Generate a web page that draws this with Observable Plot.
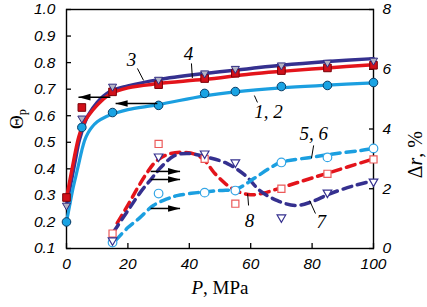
<!DOCTYPE html>
<html><head><meta charset="utf-8">
<script src="https://cdn.jsdelivr.net/npm/d3@7"></script>
<script src="https://cdn.jsdelivr.net/npm/@observablehq/plot@0.6"></script>
<style>body{margin:0;background:#fff}</style>
</head><body><div id="chart"></div>
<script>
// ---- data (P in MPa) ----
const P = [0, 5, 15, 30, 45, 55, 70, 85, 100];
const theta12 = [0.200, 0.556, 0.612, 0.639, 0.684, 0.691, 0.710, 0.714, 0.725]; // circles (1,2)
const theta4  = [0.292, 0.631, 0.690, 0.717, 0.740, 0.760, 0.770, 0.780, 0.790]; // squares
const theta3  = [0.262, 0.590, 0.710, 0.736, 0.760, 0.777, 0.790, 0.800, 0.808]; // triangles

const PR = [15, 30, 45, 55, 70, 85, 100];
const dr56 = [0.20, 1.84, 1.87, 1.94, 2.88, 3.05, 3.35]; // open circles
const dr8  = [0.50, 3.50, 3.00, 1.50, 2.00, 2.50, 2.98]; // open squares
const dr7  = [0.27, 3.08, 3.18, 2.88, 1.04, 1.87, 2.24]; // open triangles

// fitted curves [P, value]
const fit12 = [[0,0.20],[1,0.26],[2,0.32],[3,0.37],[4,0.42],[5,0.47],[6,0.51],[7,0.535],[8,0.553],[10,0.577],[13,0.597],[16,0.61],[20,0.623],[30,0.642],[45,0.675],[55,0.69],[70,0.705],[85,0.715],[100,0.724]];
const fit4  = [[0,0.29],[1,0.35],[2,0.41],[3,0.47],[4,0.52],[5,0.555],[6,0.58],[7,0.598],[10,0.64],[14,0.68],[20,0.705],[30,0.721],[45,0.737],[60,0.757],[70,0.767],[85,0.780],[100,0.792]];
const fit3  = [[0,0.26],[1,0.32],[2,0.38],[3,0.44],[4,0.50],[5,0.54],[6,0.575],[7,0.60],[10,0.65],[14,0.69],[20,0.712],[30,0.736],[45,0.759],[60,0.778],[70,0.790],[85,0.804],[100,0.815]];

const dash56 = [[16,0.27],[20,0.7],[24,1.04],[28.3,1.44],[33,1.67],[36,1.77],[42.6,1.87],[50,1.94],[55.6,2.0],[61,2.34],[66.4,2.7],[69.7,2.88],[79.5,3.05],[88,3.18],[95.8,3.28],[100,3.35]];
const dash8  = [[16.5,0.85],[20,1.45],[23,2.0],[26,2.5],[29,2.9],[33,3.15],[38,3.22],[42,3.15],[45,2.95],[48,2.55],[52,2.15],[56,1.9],[60,1.8],[64,1.85],[68,1.97],[75,2.2],[85,2.52],[100,3.0]];
const dash7  = [[15.3,0.55],[20,1.27],[24,1.87],[27.4,2.3],[30.6,2.7],[35,3.1],[39.4,3.18],[46,3.05],[52.4,2.84],[58.3,2.44],[63,1.94],[68.7,1.6],[74.6,1.44],[79.5,1.55],[86,1.84],[93.5,2.1],[100,2.27]];

const xTicks = [0, 20, 40, 60, 80, 100];
const leftTicks = [0.1, 0.2, 0.3, 0.4, 0.5, 0.6, 0.7, 0.8, 0.9, 1.0];
const rightTicks = [0, 2, 4, 6, 8];

// annotations
const arrowsLeft = [ {x1: 14.3, x2: 3.9, y: 0.670}, {x1: 29.6, x2: 16.0, y: 0.646} ];   // Θ units
const arrowsRight = [ {x1: 27.4, x2: 37.0, y: 2.58}, {x1: 27.4, x2: 37.0, y: 2.31}, {x1: 27.4, x2: 37.0, y: 1.34} ]; // Δr units
const labelsLeft = [ {x: 21.2, y: 0.812, t: "3"}, {x: 39.7, y: 0.831, t: "4"}, {x: 65.8, y: 0.616, t: "1, 2"} ];
const labelsRight = [ {x: 80.5, y: 3.85, t: "5, 6"}, {x: 83, y: 0.9, t: "7"}, {x: 59.6, y: 0.94, t: "8"} ];
const leadersLeft = [ {x1: 23.1, y1: 0.778, x2: 25.1, y2: 0.733}, {x1: 40.7, y1: 0.797, x2: 41, y2: 0.742}, {x1: 61.2, y1: 0.676, x2: 62.2, y2: 0.65} ];
const leadersRight = [ {x1: 80.5, y1: 3.45, x2: 79.8, y2: 3.02}, {x1: 81.1, y1: 1.17, x2: 79.2, y2: 1.6}, {x1: 59, y1: 1.84, x2: 59.3, y2: 1.44} ];

// ---- helpers ----
const toL = d => 0.1 + d * 0.9 / 8;           // right-axis value -> left-axis units
const fromL = v => Math.round((v - 0.1) * 8 / 0.9);
const pts = (xs, ys) => xs.map((x, i) => ({x, y: ys[i]}));
const crv = a => a.map(([x, y]) => ({x, y}));
const crvR = a => a.map(([x, y]) => ({x, y: toL(y)}));

const red = "#e3141b", navy = "#35308f", lblue = "#1b9fe0";
const headLeft = { draw(ctx, size) { ctx.moveTo(0, 0); ctx.lineTo(12, -3.3); ctx.lineTo(12, 3.3); ctx.closePath(); } };
const headRight = { draw(ctx, size) { ctx.moveTo(0, 0); ctx.lineTo(-12, -3.3); ctx.lineTo(-12, 3.3); ctx.closePath(); } };
const SERIF = "Liberation Serif";
const SANS = "Liberation Sans";

const svg = Plot.plot({
  width: 427, height: 307,
  marginLeft: 66, marginRight: 54, marginTop: 9, marginBottom: 59,
  style: {fontFamily: SANS, fontSize: "15px", background: "#fff", color: "#000"},
  x: {domain: [0, 100]},
  y: {domain: [0.1, 1.0]},
  marks: [
    Plot.axisX({ticks: xTicks, tickSize: -5, tickPadding: 14, strokeWidth: 1.3, label: null, fontSize: 15.5, fontStyle: "italic", fontFamily: SANS}),
    Plot.axisY({anchor: "left", ticks: leftTicks, tickFormat: d => d.toFixed(1), tickSize: -5, tickPadding: 16, strokeWidth: 1.3, label: null, fontSize: 15.5, fontStyle: "italic", fontFamily: SANS}),
    Plot.axisY({anchor: "right", ticks: rightTicks.map(toL), tickFormat: fromL, tickSize: -5, tickPadding: 14, strokeWidth: 1.3, label: null, fontSize: 15.5, fontStyle: "italic", fontFamily: SANS}),
    Plot.frame({stroke: "#000", strokeWidth: 1.4}),

    // dashed curves (right axis)
    Plot.line(crvR(dash8), {x: "x", y: "y", stroke: red, strokeWidth: 3.5, strokeDasharray: "9,6", curve: "catmull-rom"}),
    Plot.line(crvR(dash7), {x: "x", y: "y", stroke: navy, strokeWidth: 3.5, strokeDasharray: "9,6", curve: "catmull-rom"}),
    Plot.line(crvR(dash56), {x: "x", y: "y", stroke: lblue, strokeWidth: 3.5, strokeDasharray: "9,6", curve: "catmull-rom"}),

    // solid fits (left axis)
    Plot.line(crv(fit3), {x: "x", y: "y", stroke: navy, strokeWidth: 3.5, curve: "catmull-rom"}),
    Plot.line(crv(fit4), {x: "x", y: "y", stroke: red, strokeWidth: 3.5, curve: "catmull-rom"}),
    Plot.line(crv(fit12), {x: "x", y: "y", stroke: lblue, strokeWidth: 3.2, curve: "catmull-rom"}),

    // open markers (right axis)
    Plot.dot(pts(PR, dr56.map(toL)), {x: "x", y: "y", symbol: "circle", r: 4.3, fill: "#fff", stroke: "#35a6e6", strokeWidth: 1.2}),
    Plot.dot(pts(PR, dr8.map(toL)), {x: "x", y: "y", symbol: "square", r: 4.0, fill: "#fff", stroke: "#ec5a5a", strokeWidth: 1.2}),
    Plot.dot(pts(PR, dr7.map(toL)), {x: "x", y: "y", symbol: "triangle", rotate: 180, r: 3.2, fill: "#fff", stroke: navy, strokeWidth: 1.2}),

    // filled markers (left axis)
    Plot.dot(pts(P, theta12), {x: "x", y: "y", symbol: "circle", r: 4.3, fill: "#1aa3e3", stroke: "#0a3d66", strokeWidth: 1}),
    Plot.dot(pts(P, theta4), {x: "x", y: "y", symbol: "square", r: 4.3, fill: "#d0101a", stroke: "#7a0008", strokeWidth: 1}),
    Plot.dot(pts(P, theta3), {x: "x", y: "y", symbol: "triangle", rotate: 180, r: 3.0, fill: "#b4b4c4", stroke: "#2e2a80", strokeWidth: 1}),

    // arrows
    Plot.link(arrowsLeft, {x1: "x1", x2: "x2", y1: "y", y2: "y", stroke: "#000", strokeWidth: 1.5}),
    Plot.dot(arrowsLeft, {x: "x2", y: "y", symbol: headLeft, r: 4, fill: "#000", stroke: "none"}),
    Plot.link(arrowsRight, {x1: "x1", x2: "x2", y1: d => toL(d.y), y2: d => toL(d.y), stroke: "#000", strokeWidth: 1.5}),
    Plot.dot(arrowsRight, {x: "x2", y: d => toL(d.y), symbol: headRight, r: 4, fill: "#000", stroke: "none"}),

    // leaders and curve labels
    Plot.link(leadersLeft, {x1: "x1", y1: "y1", x2: "x2", y2: "y2", stroke: "#000", strokeWidth: 1}),
    Plot.link(leadersRight, {x1: "x1", y1: d => toL(d.y1), x2: "x2", y2: d => toL(d.y2), stroke: "#000", strokeWidth: 1}),
    Plot.text(labelsLeft, {x: "x", y: "y", text: "t", fontFamily: SERIF, fontStyle: "italic", fontSize: 19, fill: "#000"}),
    Plot.text(labelsRight, {x: "x", y: d => toL(d.y), text: "t", fontFamily: SERIF, fontStyle: "italic", fontSize: 19, fill: "#000"}),

    // axis titles
    Plot.text(["P, MPa"], {frameAnchor: "bottom", dy: 45, fontFamily: SERIF, fontStyle: "normal", fontSize: 19, fill: "#000"}),
    Plot.text(["Θp"], {frameAnchor: "left", dx: -50, dy: 0, rotate: -90, fontFamily: SERIF, fontStyle: "normal", fontSize: 19, fill: "#000"}),
    Plot.text(["Δr, %"], {frameAnchor: "right", dx: 42, dy: 2, rotate: -90, fontFamily: SERIF, fontStyle: "normal", fontSize: 20, fill: "#000"})
  ]
});

svg.querySelectorAll("text").forEach(t => {
  const s = t.textContent;
  if (s === "P, MPa") t.innerHTML = '<tspan font-style="italic">P</tspan>, MPa';
  else if (s === "Θp") t.innerHTML = 'Θ<tspan dy="0.3em" font-size="0.65em">p</tspan>';
  else if (s === "Δr, %") t.innerHTML = 'Δ<tspan font-style="italic">r</tspan>, %';
});
document.getElementById("chart").appendChild(svg);
</script>
</body></html>
